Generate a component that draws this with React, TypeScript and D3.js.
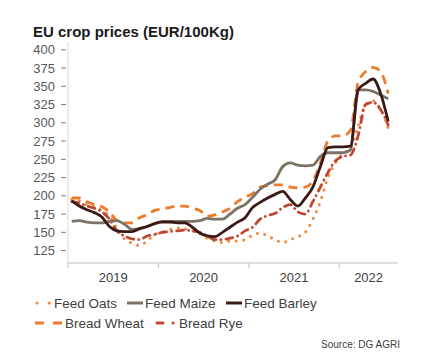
import React from "react";
import * as d3 from "d3";

const months: string[] = d3.timeMonths(new Date(2019, 0, 1), new Date(2022, 7, 1)).map((d) => d3.timeFormat("%Y-%m")(d));
const yearLabels = ["2019", "2020", "2021", "2022"];
const yTicks = [125, 150, 175, 200, 225, 250, 275, 300, 325, 350, 375, 400];

const feedOats = [195, 193, 188, 185, 180, 172, 155, 141, 135, 132, 138, 147, 150, 154, 156, 155, 152, 148, 142, 138, 136, 138, 138, 140, 146, 149, 145, 140, 136, 140, 144, 150, 168, 192, 225, 245, 258, 265, 295, 325, 330, 318, 292];
const feedMaize = [165, 166, 164, 163, 163, 165, 166, 161, 154, 155, 158, 162, 165, 165, 165, 165, 165, 166, 169, 168, 168, 175, 183, 188, 198, 209, 216, 222, 240, 245, 242, 241, 242, 254, 259, 259, 259, 263, 345, 345, 343, 338, 333];
const feedBarley = [193, 186, 181, 177, 171, 158, 152, 151, 151, 155, 158, 162, 164, 164, 163, 163, 157, 149, 145, 144, 150, 157, 164, 170, 184, 191, 197, 202, 206, 195, 186, 197, 212, 240, 266, 267, 267, 268, 345, 354, 360, 340, 302];
const breadWheat = [197, 197, 192, 188, 185, 178, 166, 163, 163, 170, 174, 180, 182, 184, 186, 186, 183, 180, 172, 174, 178, 183, 192, 198, 203, 212, 214, 215, 215, 212, 211, 212, 220, 245, 275, 282, 282, 290, 355, 370, 376, 370, 340];
const breadRye = [192, 190, 186, 183, 178, 168, 152, 145, 141, 140, 145, 147, 150, 151, 152, 153, 152, 150, 145, 140, 140, 142, 145, 152, 157, 168, 173, 176, 184, 188, 178, 175, 192, 212, 232, 248, 254, 256, 282, 325, 328, 318, 297];

const seriesNames = ["Feed Oats", "Feed Maize", "Feed Barley", "Bread Wheat", "Bread Rye"];
const seriesValues = [feedOats, feedMaize, feedBarley, breadWheat, breadRye];
const colors = ["#f08a3c", "#7d7266", "#3b1a16", "#ee7a2c", "#c2452f"];
const dashes = ["0.1 7.5", "none", "none", "9 6", "7 5 0.1 5"];
const caps = ["round", "butt", "butt", "butt", "round"];

export default function App() {
  const x = d3.scaleLinear().domain([0, 43.8]).range([68, 398]);
  const y = d3.scaleLinear().domain([108, 410]).range([263, 42.5]);
  const line = d3
    .line<number>()
    .x((_, i) => x(i + 0.5))
    .y((v) => y(v))
    .curve(d3.curveMonotoneX);

  const yearTicks = [0, 12, 24, 36];
  const yearCenters = [6, 18, 30, (36 + 43.8) / 2];
  const font = "Liberation Sans, Arial, sans-serif";

  const drawOrder = [0, 4, 3, 1, 2];

  const legendItems = [
    { i: 0, x: 35, y: 303 },
    { i: 1, x: 127, y: 303 },
    { i: 2, x: 226, y: 303 },
    { i: 3, x: 35, y: 323 },
    { i: 4, x: 155, y: 323 },
  ];

  return (
    <svg
      width={427}
      height={362}
      style={{ position: "absolute", left: 0, top: 0, background: "#fff" }}
      fontFamily={font}
    >
      <text x={33} y={37} fontSize={15} fontWeight="bold" fill="#1a1a1a">
        EU crop prices (EUR/100Kg)
      </text>

      {/* y axis */}
      <line x1={68} x2={68} y1={42} y2={263} stroke="#d9d9d9" strokeWidth={1} />
      {yTicks.map((t) => (
        <g key={t}>
          <line x1={61} x2={66} y1={y(t)} y2={y(t)} stroke="#8a7a70" strokeWidth={1} />
          <text x={55} y={y(t)} dy="0.35em" textAnchor="end" fontSize={13} fill="#595959">
            {t}
          </text>
        </g>
      ))}

      {/* x axis */}
      <line x1={68} x2={398} y1={263} y2={263} stroke="#bfbfbf" strokeWidth={1} />
      {yearTicks.map((t) => (
        <line key={t} x1={x(t)} x2={x(t)} y1={263} y2={268} stroke="#bfbfbf" strokeWidth={1} />
      ))}
      {yearLabels.map((lab, k) => (
        <text key={lab} x={x(yearCenters[k])} y={282} textAnchor="middle" fontSize={13} fill="#404040">
          {lab}
        </text>
      ))}

      {/* series */}
      {drawOrder.map((i) => (
        <path
          key={seriesNames[i]}
          d={line(seriesValues[i]) || ""}
          fill="none"
          stroke={colors[i]}
          strokeWidth={i === 0 ? 3 : 2.8}
          strokeDasharray={dashes[i]}
          strokeLinecap={caps[i] as any}
          strokeLinejoin="round"
        />
      ))}

      {/* legend */}
      {legendItems.map(({ i, x: lx, y: ly }) => (
        <g key={seriesNames[i]}>
          {i === 0 ? (
            <line x1={lx + 2} x2={lx + 15} y1={ly} y2={ly} stroke={colors[i]} strokeWidth={3} strokeDasharray="0.1 12" strokeLinecap="round" />
          ) : i === 3 ? (
            <line x1={lx} x2={lx + 28} y1={ly} y2={ly} stroke={colors[i]} strokeWidth={3} strokeDasharray="9 9" />
          ) : i === 4 ? (
            <line x1={lx + 2} x2={lx + 19} y1={ly} y2={ly} stroke={colors[i]} strokeWidth={3} strokeDasharray="6 10 0.1 100" strokeLinecap="round" />
          ) : (
            <line x1={lx} x2={lx + 16} y1={ly} y2={ly} stroke={colors[i]} strokeWidth={3} />
          )}
          <text
            x={lx + (i === 0 ? 19 : i === 3 ? 30 : i === 4 ? 24 : 18)}
            y={ly}
            dy="0.35em"
            fontSize={13.5}
            fill="#404040"
          >
            {seriesNames[i]}
          </text>
        </g>
      ))}

      <text x={400} y={348} textAnchor="end" fontSize={10} fill="#404040">
        Source: DG AGRI
      </text>
    </svg>
  );
}
